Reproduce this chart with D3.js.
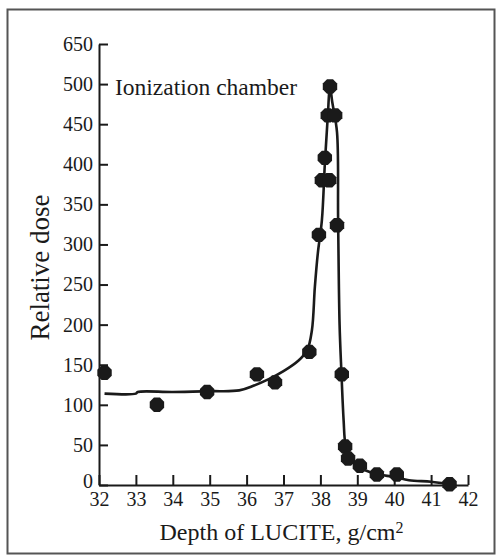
<!DOCTYPE html>
<html>
<head>
<meta charset="utf-8">
<script src="https://cdn.jsdelivr.net/npm/d3@7"></script>
<style>
  html, body { margin: 0; padding: 0; background: #fff; }
  svg { display: block; }
  text { font-family: "Liberation Serif", "DejaVu Serif", serif; fill: #1a1a1a; }
</style>
</head>
<body>
<svg id="chart" width="497" height="560"></svg>
<script>
// Measured relative dose along depth in LUCITE (ionization chamber)
const depth = [32.15, 33.57, 34.93, 36.28, 36.77, 37.70, 37.96, 38.04, 38.24, 38.12,
               38.20, 38.26, 38.40, 38.45, 38.58, 38.67, 38.75, 39.07, 39.53, 40.07, 41.50];
const dose  = [140, 100, 116, 138, 128, 166, 312, 380, 380, 408,
               461, 497, 461, 324, 138, 48, 33, 24, 13, 13, 1];

// Smooth fitted curve through the measurements
const curveDepth = [32.15, 33.0, 33.05, 34.0, 35.0, 35.8, 36.2, 36.6, 37.0, 37.4, 37.64,
                    37.77, 37.85, 37.93, 38.04, 38.12, 38.20, 38.26, 38.32, 38.45, 38.48,
                    38.52, 38.57, 38.63, 38.68, 38.80, 39.05, 39.50, 40.00, 40.40, 41.00, 41.50];
const curveDose  = [114, 114, 116, 116, 117, 118, 124, 132, 142, 155, 168,
                    193, 247, 289, 330, 400, 460, 497, 478, 440, 330,
                    200, 140, 80, 50, 33, 22, 14, 10, 6, 4, 1];

// Axis ticks (the value axis is broken above 500)
const xTickValues = [32, 33, 34, 35, 36, 37, 38, 39, 40, 41, 42];
const yTickValues = [0, 50, 100, 150, 200, 250, 300, 350, 400, 450, 500, 550];
const yTickLabels = ["0", "50", "100", "150", "200", "250", "300", "350", "400", "450", "500", "650"];

const svg = d3.select("#chart");

// Outer frame
svg.append("rect")
  .attr("x", 7.5).attr("y", 9.5)
  .attr("width", 487).attr("height", 544)
  .attr("fill", "none").attr("stroke", "#555").attr("stroke-width", 2);

const x = d3.scaleLinear().domain([32, 42]).range([99, 468]);
const y = d3.scaleLinear().domain([0, 550]).range([485, 44]);

const ink = "#1a1a1a";

// Y axis
const yAxis = d3.axisLeft(y)
  .tickValues(yTickValues)
  .tickFormat((d, i) => yTickLabels[i])
  .tickSizeInner(-9).tickSizeOuter(0).tickPadding(6);
const gy = svg.append("g").attr("transform", `translate(${x(32)},0)`).call(yAxis);

// X axis
const xAxis = d3.axisBottom(x)
  .tickValues(xTickValues)
  .tickFormat(d3.format("d"))
  .tickSizeInner(-10).tickSizeOuter(0).tickPadding(8);
const gx = svg.append("g").attr("transform", `translate(0,${y(0)})`).call(xAxis);

[gx, gy].forEach(g => {
  g.select(".domain").attr("stroke", ink).attr("stroke-width", 2);
  g.selectAll(".tick line").attr("stroke", ink).attr("stroke-width", 2);
  g.selectAll(".tick text").attr("fill", ink)
    .style("font-family", '"Liberation Serif", serif').style("font-size", "20px");
});
gx.selectAll(".tick text").attr("dy", "0.66em");
// lift the zero label clear of the depth labels at the corner
gy.selectAll(".tick text").filter(d => d === 0).attr("dy", "0.1em");

// Fitted curve
const line = d3.line()
  .x((d, i) => x(curveDepth[i]))
  .y((d, i) => y(curveDose[i]))
  .curve(d3.curveCatmullRom.alpha(0.5));
svg.append("path")
  .datum(curveDose)
  .attr("d", line)
  .attr("fill", "none").attr("stroke", ink).attr("stroke-width", 2.6)
  .attr("stroke-linejoin", "round");

// Measured points drawn as octagons
const r = 7.8;
const octagon = d3.range(8).map(k => {
  const a = Math.PI / 8 + k * Math.PI / 4;
  return [r * Math.cos(a), r * Math.sin(a)];
});
svg.append("g").selectAll("polygon")
  .data(dose)
  .join("polygon")
  .attr("points", octagon.map(p => p.join(",")).join(" "))
  .attr("transform", (d, i) => `translate(${x(depth[i])},${y(d)})`)
  .attr("fill", ink);

// Annotation
svg.append("text")
  .attr("x", 115).attr("y", 95)
  .style("font-size", "23.5px")
  .text("Ionization chamber");

// Axis titles
const xt = svg.append("text")
  .attr("x", (x(32) + x(42)) / 2 - 2).attr("y", 540)
  .attr("text-anchor", "middle")
  .style("font-size", "24px");
xt.append("tspan").text("Depth of LUCITE, g/cm");
xt.append("tspan").attr("dy", "-0.45em").style("font-size", "16px").text("2");

svg.append("text")
  .attr("transform", `translate(49,${(y(0) + y(550)) / 2 + 3}) rotate(-90)`)
  .attr("text-anchor", "middle")
  .style("font-size", "27px")
  .text("Relative dose");
</script>
</body>
</html>
